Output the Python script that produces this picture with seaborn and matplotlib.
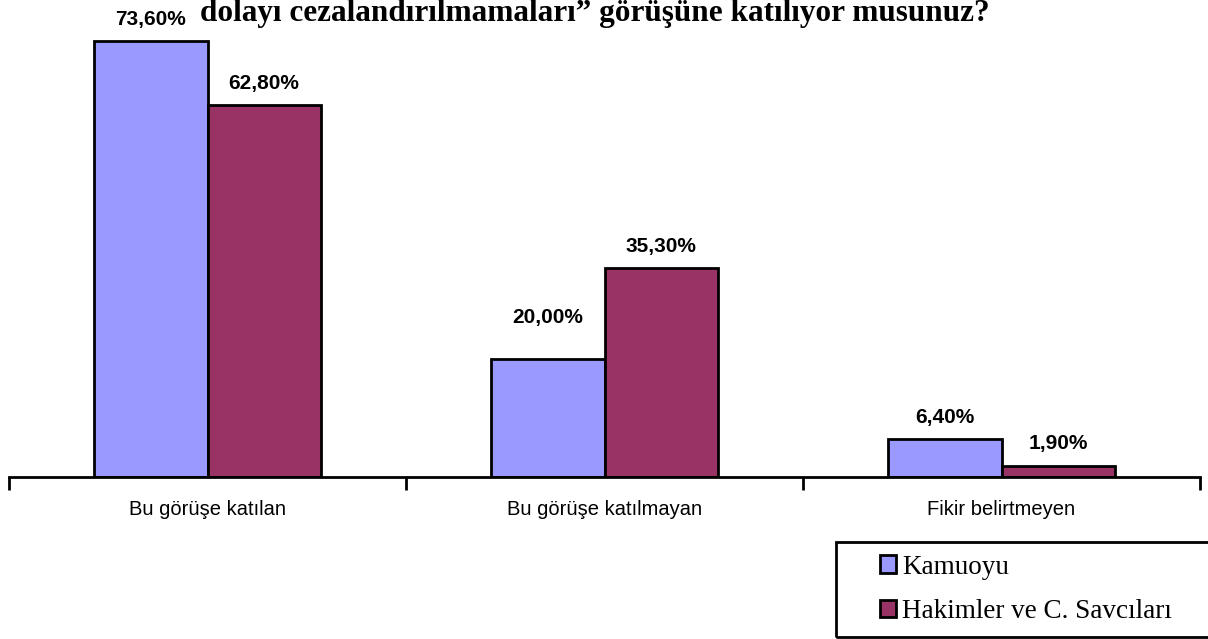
import matplotlib
matplotlib.use("Agg")
import matplotlib.pyplot as plt
from matplotlib.patches import Rectangle
import pandas as pd
import seaborn as sns

# Survey answers, percentages per respondent group
categories = ["Bu görüşe katılan", "Bu görüşe katılmayan", "Fikir belirtmeyen"]
series_names = ["Kamuoyu", "Hakimler ve C. Savcıları"]
kamuoyu = [73.6, 20.0, 6.4]
hakimler = [62.8, 35.3, 1.9]
title_text = "dolayı cezalandırılmamaları\u201d görüşüne katılıyor musunuz?"

colors = ["#9999FF", "#993366"]

df = pd.DataFrame({
    "Kategori": categories * 2,
    "Grup": [series_names[0]] * len(categories) + [series_names[1]] * len(categories),
    "Oran": kamuoyu + hakimler,
})

sns.set_theme(style="white")
plt.rcParams["font.family"] = ["Liberation Sans", "DejaVu Sans"]
plt.rcParams["text.color"] = "black"

W, H = 1208, 639
fig = plt.figure(figsize=(W / 100, H / 100), dpi=100)
fig.patch.set_facecolor("white")
ax = fig.add_axes([9 / W, (H - 477) / H, (1200 - 9) / W, (477 - 20) / H])

sns.barplot(
    data=df, x="Kategori", y="Oran", hue="Grup", order=categories,
    hue_order=series_names, palette=colors, width=0.57, gap=0,
    edgecolor="black", linewidth=2, saturation=1, ax=ax, legend=True,
)

ax.set_xlim(-0.5, 2.5)
ax.set_ylim(0, 77.2)
ax.set_xlabel("")
ax.set_ylabel("")
ax.set_yticks([])
for side in ["top", "right", "left"]:
    ax.spines[side].set_visible(False)
ax.spines["bottom"].set_color("black")
ax.spines["bottom"].set_linewidth(2)

# Category boundaries carry the tick marks, labels sit between them
ax.set_xticks([-0.5, 0.5, 1.5, 2.5])
ax.set_xticklabels([])
ax.tick_params(axis="x", which="major", length=9, width=2, color="black",
               direction="out", bottom=True)
ax.set_xticks(range(len(categories)), minor=True)
ax.set_xticklabels(categories, minor=True, fontsize=14.5, color="black")
ax.tick_params(axis="x", which="minor", length=0, pad=16.5)

# Value labels above each bar
extra = {(0, 1): 14}
for si, cont in enumerate(ax.containers):
    vals = kamuoyu if si == 0 else hakimler
    for ci, (patch, v) in enumerate(zip(cont.patches, vals)):
        label = f"{v:.2f}%".replace(".", ",")
        ax.annotate(label, xy=(patch.get_x() + patch.get_width() / 2, v),
                    xytext=(0, 9 + extra.get((si, ci), 0)),
                    textcoords="offset points", ha="center", va="bottom",
                    fontsize=15, fontweight="bold", color="black",
                    annotation_clip=False)

# Legend with a square frame running off the right edge
handles, labels = ax.get_legend_handles_labels()
ax.get_legend().remove()
fig.legend(handles, labels, loc="upper left",
           bbox_to_anchor=(858 / W, 1 - 533 / H), frameon=False,
           prop={"family": "Liberation Serif", "size": 19.5},
           labelcolor="black",
           handlelength=0.62, handleheight=0.62, handletextpad=0.22,
           labelspacing=0.72, borderpad=0.3)
fig.patches.append(Rectangle((836 / W, 1 - 637 / H), (1230 - 836) / W, (637 - 542) / H,
                             transform=fig.transFigure, fill=False,
                             edgecolor="black", linewidth=2))

fig.text(200 / W, 1 - 21 / H, title_text, ha="left", va="baseline",
         fontsize=22.5, fontweight="bold", family="Liberation Serif", color="black")

fig.savefig("out.png", dpi=100, facecolor="white")
